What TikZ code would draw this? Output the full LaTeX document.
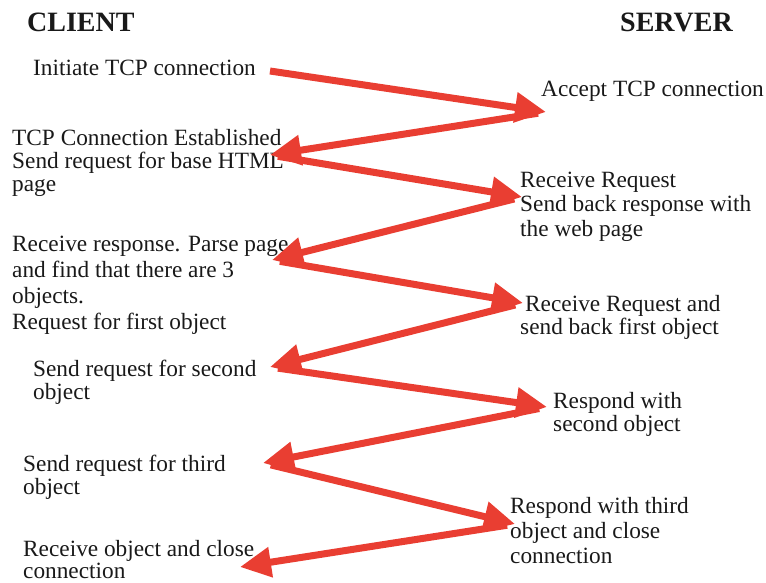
\documentclass[tikz,border=0pt]{standalone}
\usepackage{fontspec}
\setmainfont{Liberation Serif}
\usetikzlibrary{arrows.meta}
\definecolor{arrred}{RGB}{233,62,50}
\definecolor{txt}{RGB}{25,25,25}
\tikzset{
  lbl/.style={anchor=base west, inner sep=0pt, align=left, text=txt, font=\fontsize{23.3}{24}\selectfont},
  hdr/.style={anchor=base west, inner sep=0pt, text=txt, font=\fontsize{28}{30}\selectfont\bfseries},
  arr/.style={draw=arrred, line width=7pt, -{Triangle[length=31pt,width=29pt]}},
  back/.style={arr, shorten <=8pt}
}
\begin{document}
\begin{tikzpicture}[x=1pt,y=-1pt]
\useasboundingbox (0,0) rectangle (766,583);
% headers
\node[hdr] (client) at (27,32) {CLIENT};
\node[hdr] (server) at (620,32) {SERVER};
% client labels (multi-line nodes: base = last line)
\node[lbl] (initiate) at (33,76) {Initiate TCP connection};
\node[lbl, font=\fontsize{23.3}{23.5}\selectfont] (established) at (12,192) {TCP Connection Established\\Send request for base HTML\\page};
\node[lbl, font=\fontsize{23.3}{25.7}\selectfont] (parse) at (12,329) {Receive response. Parse page\\and find that there are 3\\objects.\\Request for first object};
\node[lbl, font=\fontsize{23.3}{23}\selectfont] (second) at (33,399) {Send request for second\\object};
\node[lbl, font=\fontsize{23.3}{21}\selectfont] (third) at (23,494) {Send request for third\\object};
\node[lbl, font=\fontsize{23.3}{22}\selectfont] (close) at (23,578) {Receive object and close\\connection};
% server labels
\node[lbl] (accept) at (541,97) {Accept TCP connection};
\node[lbl, font=\fontsize{23.3}{24.5}\selectfont] (recvreq) at (520,236) {Receive Request\\Send back response with\\the web page};
\node[lbl, font=\fontsize{23.3}{21}\selectfont] (first) at (520,334) {\hspace{5pt}Receive Request and\\send back first object};
\node[lbl, font=\fontsize{23.3}{23}\selectfont] (respsecond) at (553,431) {Respond with\\second object};
\node[lbl, font=\fontsize{23.3}{25}\selectfont] (respthird) at (510,563) {Respond with third\\object and close\\connection};
% arrow end points
\coordinate (c0) at (270,71);
\coordinate (s1) at (546,112);
\coordinate (c1) at (270,155);
\coordinate (s2) at (522,197);
\coordinate (c2) at (272,260);
\coordinate (s3) at (523,303);
\coordinate (c3) at (270,367);
\coordinate (s4) at (547,407);
\coordinate (c4) at (263,463);
\coordinate (s5) at (515,524);
\coordinate (c5) at (240,567);
% arrows
\draw[arr] (c0) -- (s1);
\draw[back] (s1) -- (c1);
\draw[back] (c1) -- (s2);
\draw[back] (s2) -- (c2);
\draw[back] (c2) -- (s3);
\draw[back] (s3) -- (c3);
\draw[back] (c3) -- (s4);
\draw[back] (s4) -- (c4);
\draw[back] (c4) -- (s5);
\draw[back] (s5) -- (c5);
\end{tikzpicture}
\end{document}
